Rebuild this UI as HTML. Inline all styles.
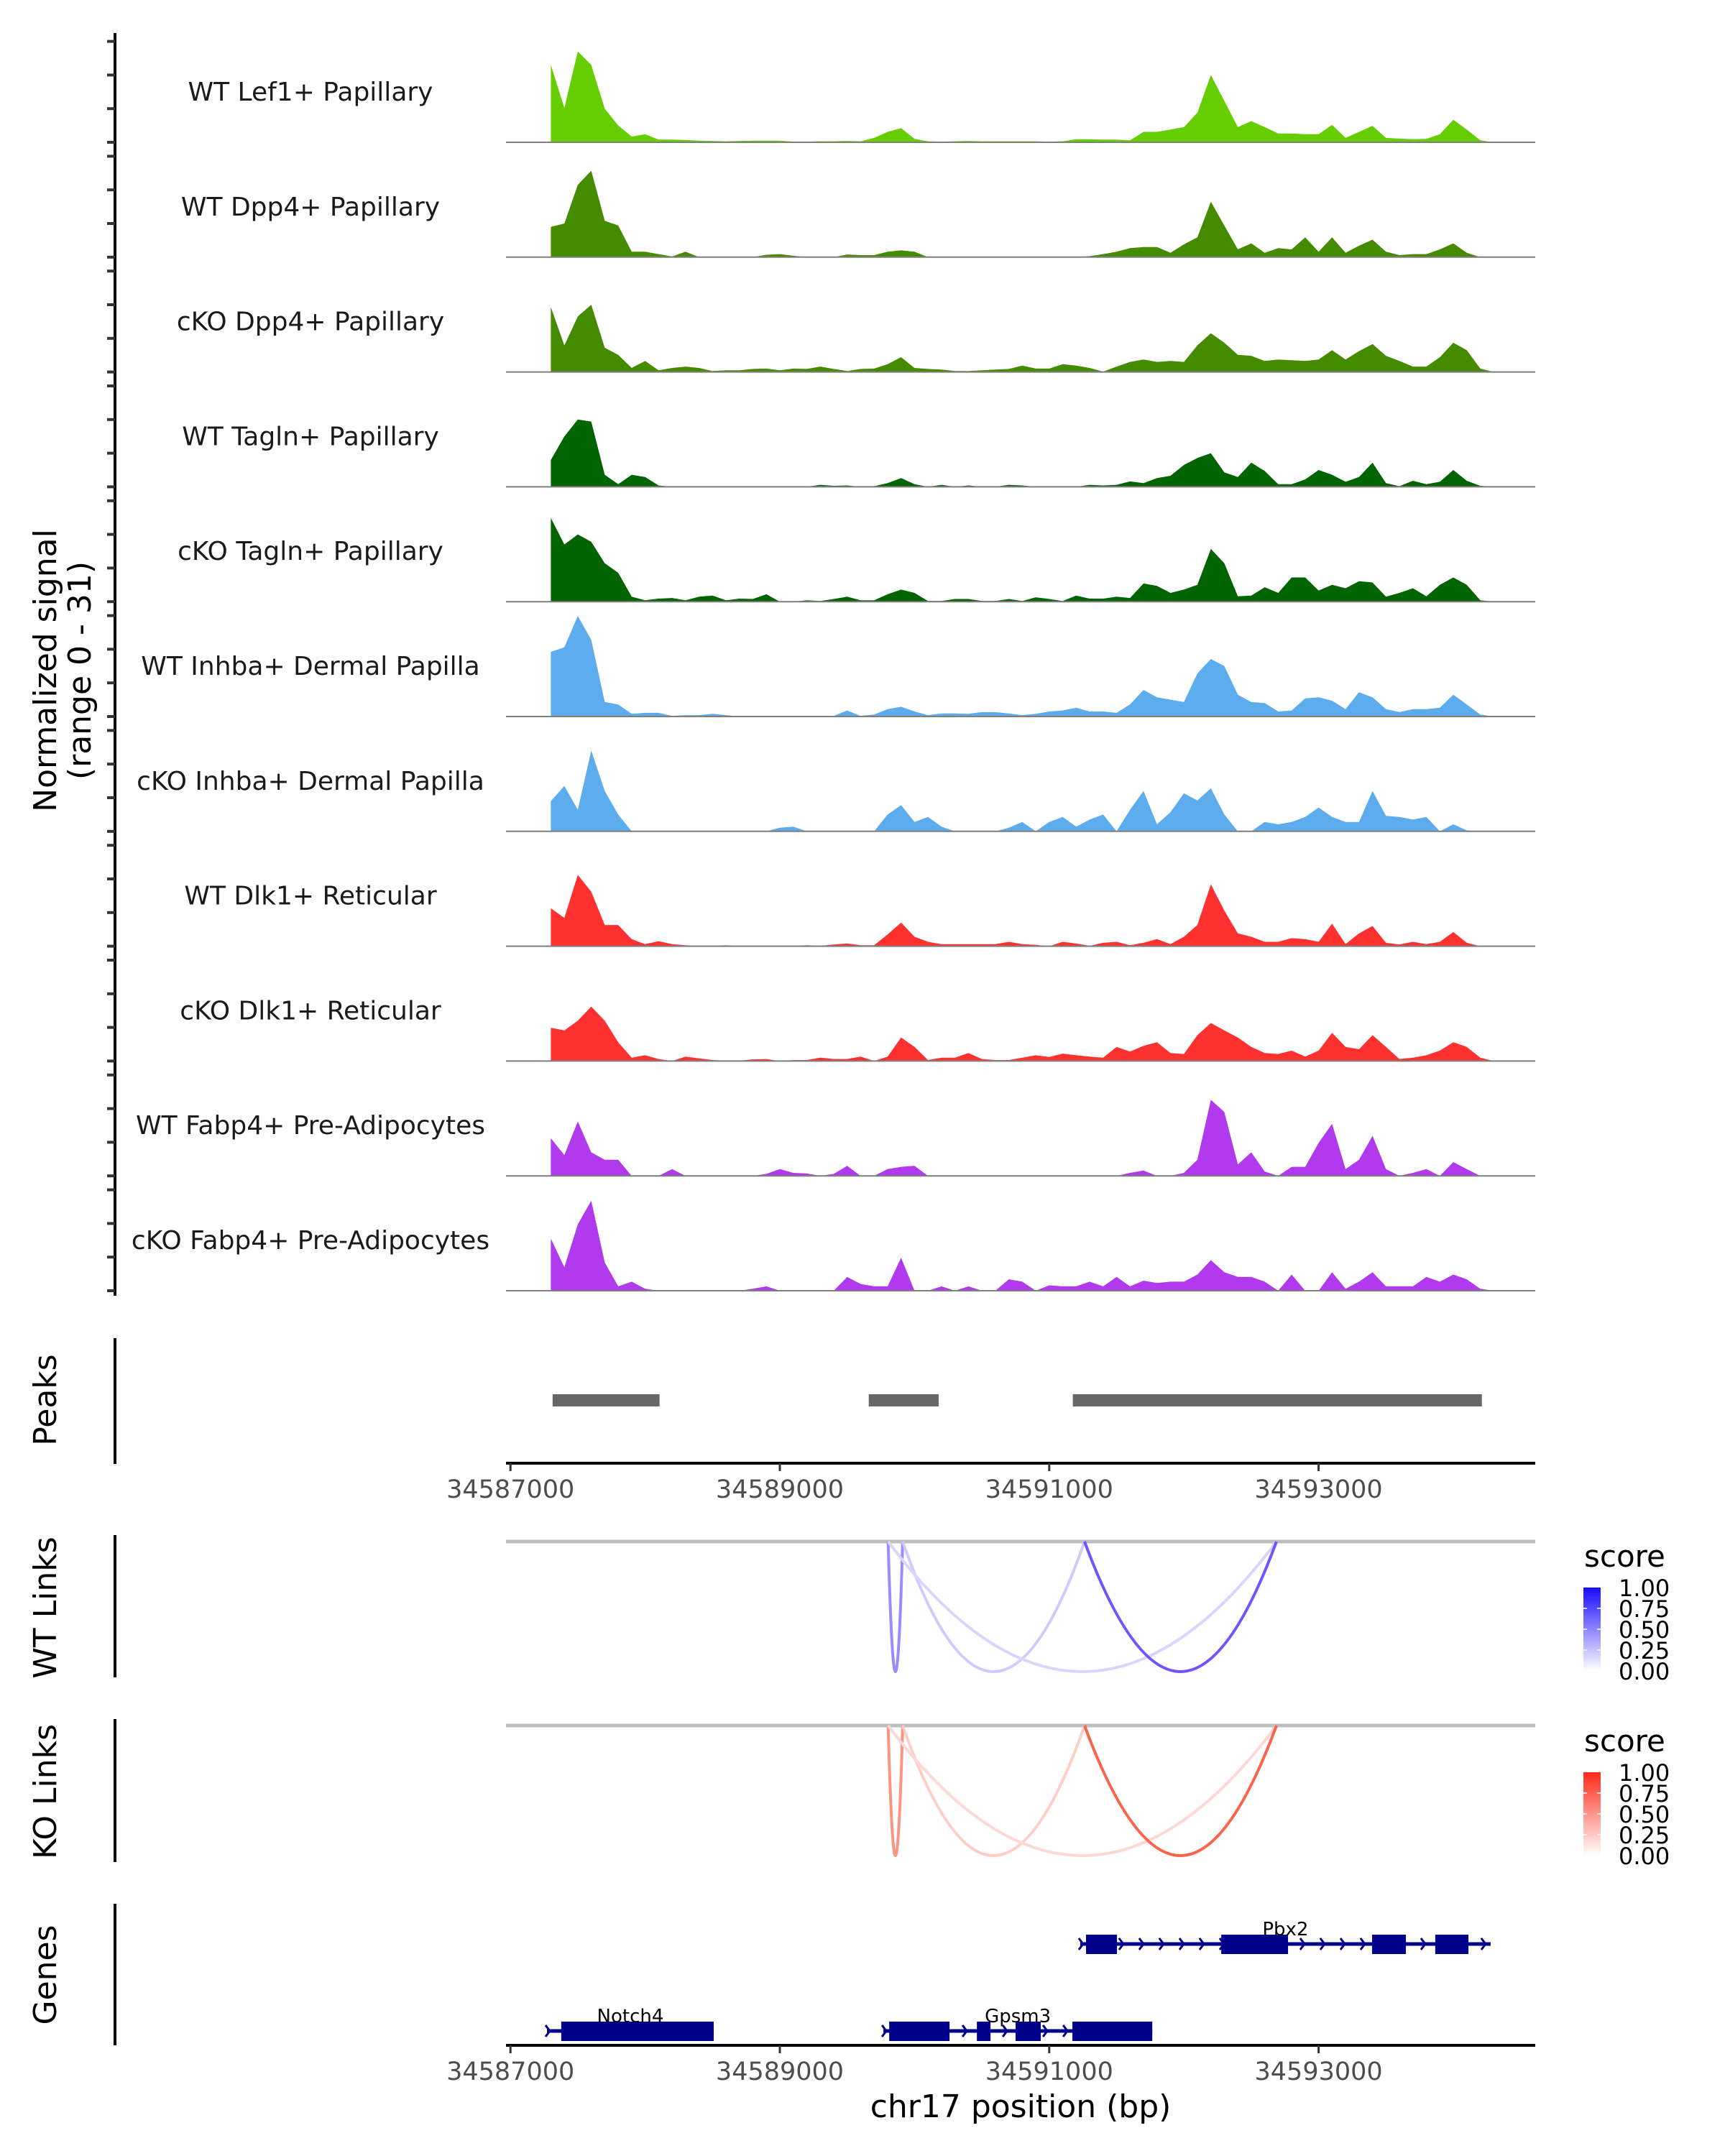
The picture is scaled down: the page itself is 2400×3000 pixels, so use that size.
<!DOCTYPE html>
<html><head><meta charset="utf-8"><style>
html,body{margin:0;padding:0;background:#fff;}
svg{display:block;font-family:"DejaVu Sans","Liberation Sans",sans-serif;}
</style></head><body>
<svg id="chart" width="2400" height="3000" viewBox="0 0 2400 3000" xmlns="http://www.w3.org/2000/svg"></svg>
<script>
// ---------- data ----------
const trackNames = ["WT Lef1+ Papillary","WT Dpp4+ Papillary","cKO Dpp4+ Papillary","WT Tagln+ Papillary","cKO Tagln+ Papillary","WT Inhba+ Dermal Papilla","cKO Inhba+ Dermal Papilla","WT Dlk1+ Reticular","cKO Dlk1+ Reticular","WT Fabp4+ Pre-Adipocytes","cKO Fabp4+ Pre-Adipocytes"];
const trackColors = ["#66CD00","#458B00","#458B00","#006400","#006400","#5CACEE","#5CACEE","#FF3030","#FF3030","#B23AEE","#B23AEE"];
const binStart = 34587300;
const binSize = 100;
const sigLef1WT = [23,10.2,27,23,10,5,1.7,2.4,0.8,0.8,0.7,0.5,0.4,0.3,0.4,0.5,0.5,0.5,0.2,0.2,0.3,0.3,0.4,0.3,1.3,3.1,4.2,1,0.3,0.2,0.3,0.4,0.3,0.3,0.3,0.3,0.3,0.2,0.3,0.9,0.9,0.8,0.8,0.6,3.1,3.1,3.8,4.5,8.8,20,12.3,4.5,6.3,4.5,2.6,2.6,2.4,2.4,5.2,1.3,3.1,4.9,1.3,1.1,0.9,1,2.4,6.7,3.8,0.6,0];
const sigDpp4WT = [9,10,21.5,25.7,10.8,9.4,1.6,1.6,0.9,0.2,1.6,0,0,0,0,0,0.7,0.9,0.4,0,0,0,0.8,0.6,0.6,1.6,2,1.6,0,0,0,0,0,0,0,0,0,0,0,0,0.3,0.9,1.6,2.7,3,3,1.3,3.8,5.9,16.5,9.4,2.3,4.1,1.3,2.7,2.3,5.9,1.6,5.9,1.3,3.4,5.2,1.6,0.6,0.9,0.9,2.3,4.1,1.3,0,0];
const sigDpp4KO = [19.3,7.9,16.5,20,7.2,5.1,1.2,3.3,0.5,1.2,1.6,1.2,0.3,0.5,0.5,0.9,1,0.5,1,0.9,1.6,0.9,0.3,0.9,1,2.3,4.4,1.2,0.9,0.7,0.3,0.3,0.5,0.7,0.9,1.9,1,1,2.3,1.9,1.2,0.1,1.6,3,3.7,3,3.3,3,7.9,11.5,8.7,5.1,4.8,3.3,3.7,3.5,3.3,3.7,6.5,3.7,6.2,8.3,4.8,3.3,1.6,1.6,4.4,8.7,6.5,1,0];
const sigTaglnWT = [8,15,20,19.4,3.6,0.8,3.6,2.9,0.4,0,0,0,0,0,0,0,0,0,0,0,0.6,0.3,0.4,0,0.2,1.1,2.6,0.8,0,0.6,0,0.4,0,0,0.6,0.4,0,0,0,0,0.6,0.4,0.6,1.6,1.1,2.6,3.3,6.5,8.6,10,4.3,2.9,7.2,4.7,0.8,0.8,2.2,5,3.6,1.5,2.9,7.2,1.1,0.2,1.8,0.8,1.5,5,1.8,0.3,0];
const sigTaglnKO = [24.9,17,20,17.8,11.4,8.6,1.5,0.4,0.9,1.1,0.4,1.5,1.8,0.4,0.9,0.8,2.2,0,0,0.4,0.2,0.8,1.5,0.4,0.4,2.2,3.6,2.6,0.2,0.2,0.8,0.8,0.2,0.2,0.8,0.2,1.3,0.8,0.2,1.8,0.9,0.9,1.5,1.1,5.4,4.7,2.6,3.6,5,15.7,11.4,1.6,1.8,4.3,2.6,7.2,7.2,3.3,5,4,6.1,5.7,1.5,2.6,4,1.6,5,7.2,5,0.4,0];
const sigInhbaWT = [19.2,20.6,29.9,22.8,4.3,3.6,0.8,1.1,1.1,0.2,0.4,0.4,0.8,0.4,0,0,0,0,0,0,0,0.2,1.8,0.2,0.6,2.2,2.9,1.5,0.4,0.9,0.9,0.8,1.3,1.3,0.9,0.4,0.8,1.5,1.8,2.6,1.5,1.5,1.1,3.6,7.9,5.7,5,4.3,12.8,17.1,15,6.5,4.3,4,1.5,1.8,5.4,5.7,4.7,2.2,7.2,5.7,2.2,1.3,2.2,2.2,2.6,6.5,3.6,0.6,0];
const sigInhbaKO = [9,13.5,6.4,24,12,5,0,0,0,0,0,0,0,0,0,0,0,1.1,1.4,0,0,0,0,0,0,5,7.8,2.8,4.3,1.4,0,0,0,0,1.1,2.8,0,2.8,4.3,1.4,3.5,5,0,6.4,12,2.1,5.7,11.3,9.2,12.8,5,0,0,2.8,2.1,2.8,4.3,7.1,4.3,2.8,2.8,12,4.6,4.3,3.5,4.3,0,2.1,0.3,0,0];
const sigDlk1WT = [11.3,8.4,21.2,16.2,6.3,6.3,2.1,0.6,1.5,0.6,0.3,0,0,0.3,0,0,0,0,0,0.3,0.1,0.5,0.8,0.3,0.3,3.5,7,2.8,1.3,0.6,0.6,0.6,0.6,0.6,1.3,0.6,0.4,0,1.3,0.8,0.1,1,1.3,0.3,1,2.1,0.6,2.8,6.3,18.4,10.6,3.8,2.8,1.3,1.3,2.4,2.1,1.3,6.7,0.6,3.8,6,1,0.5,1.3,0.6,1.3,4.2,1,0,0];
const sigDlk1KO = [9.9,9.1,12,16.2,12,5.6,1,1.7,0.6,0,1.3,0.8,0.3,0.1,0.1,0.5,0.6,0,0.3,0.3,1,0.6,0.6,1.3,0,1.3,7,4.2,0.3,1,1,2.4,0.6,0.3,0.3,1,1.7,1.2,2.2,1.7,1.3,1,4.2,2.8,4.5,5.6,2.4,2.1,7.7,11.3,9.1,7,4.2,2.4,2.1,3.1,1.3,3.1,8.4,4.2,3.5,7.7,4.2,0.6,1,1.7,3.1,5.6,4.2,1,0];
const sigFabp4WT = [11.2,6.2,16.2,7,4.8,4.8,0,0,0,2,0,0,0,0,0,0,0.6,2,0.9,0.7,0,0.6,3,0,0,2,2.7,3,0,0,0,0,0,0,0,0,0,0,0,0,0,0,0,0.9,1.6,0,0,0.9,4.8,22.6,19,3.4,7,1.3,0,2.7,2.7,9.8,15.5,2,4.8,11.9,2,0,0.9,2,0,4.1,2,0,0];
const sigFabp4KO = [15.5,7,19.7,26.8,8.4,1.3,2.7,0.6,0,0,0,0,0,0,0,0.6,1.3,0,0,0,0,0,4.1,2,1.3,1.3,9.8,0,0,1.3,0,1.3,0,0,3.4,2.7,0,1.6,1.3,1.3,2.7,1.3,4.1,1.3,3,2.3,2.7,2.7,4.8,9.1,5.5,4.1,4.1,2.7,0,4.8,0,0,5.5,0.6,2.7,5.5,1.3,1.3,1.3,4.1,2.7,4.8,3.4,0.6,0];
const peakStarts = [34587313,34589660,34591175];
const peakEnds = [34588107,34590179,34594212];
const linkStartsPos = [34589804,34589912,34589804,34591262];
const linkEndsPos = [34589912,34591262,34592687,34592687];
const linkScoresWT = [0.55,0.25,0.2,0.8];
const linkScoresKO = [0.55,0.25,0.2,0.8];
const xTickValues = [34587000,34589000,34591000,34593000];
const xTickLabels = ["34587000","34589000","34591000","34593000"];
const yTickValues = [0,10,20,30];
const legendLabels = ["1.00","0.75","0.50","0.25","0.00"];
const geneNames = ["Pbx2","Notch4","Gpsm3"];
const geneStarts = [34591230,34587271,34589769];
const geneEnds = [34594277,34588509,34591765];
const geneExons = [
  [[34591273,34591503],[34592277,34592773],[34593397,34593648],[34593866,34594112]],
  [[34587377,34588509]],
  [[34589812,34590260],[34590463,34590564],[34590750,34590937],[34591172,34591765]]
];
const geneRows = [0,1,1];

// ---------- scales ----------
const NS="http://www.w3.org/2000/svg";
const svg=document.getElementById('chart');
const X0=710.2, PXBP=0.18740;
function xScale(pos){return X0+(pos-34587000)*PXBP;}
const baseY0=198, trackStep=159.8, PXV=4.68;
function yScale(track,v){return baseY0+trackStep*track - v*PXV;}
function el(tag,attrs,parent){const e=document.createElementNS(NS,tag);for(const k in attrs)e.setAttribute(k,attrs[k]);(parent||svg).appendChild(e);return e;}
function txt(s,attrs,parent){const t=el('text',attrs,parent);t.textContent=s;return t;}

const signals=[sigLef1WT,sigDpp4WT,sigDpp4KO,sigTaglnWT,sigTaglnKO,sigInhbaWT,sigInhbaKO,sigDlk1WT,sigDlk1KO,sigFabp4WT,sigFabp4KO];

let ax=el('line',{x1:160,y1:46,x2:160,y2:1803,stroke:'#000','stroke-width':4});



signals.forEach((sig,t)=>{
  const g=el('g',{});
  
  
  const base=yScale(t,0);
  yTickValues.forEach(v=>{
    const tk=el('line',{x1:149,y1:yScale(t,v),x2:160,y2:yScale(t,v),stroke:'#333','stroke-width':4},g);
    
    
  });
  let d='M'+xScale(binStart).toFixed(1)+','+base;
  sig.forEach((v,i)=>{d+=' L'+xScale(binStart+binSize*i).toFixed(1)+','+yScale(t,v).toFixed(1);});
  d+=' L'+xScale(binStart+binSize*(sig.length-1)).toFixed(1)+','+base+' Z';
  const p=el('path',{d:d,fill:trackColors[t]},g);
  
  
  const bl=el('line',{x1:704,y1:base,x2:2136,y2:base,stroke:'#7f7f7f','stroke-width':2},g);
  
  
  const lb=txt(trackNames[t],{x:432,y:base-58,'font-size':36,fill:'#1a1a1a','text-anchor':'middle'},g);
  
  
});

const yt=txt('',{transform:'translate(78,933) rotate(-90)','font-size':44,fill:'#000','text-anchor':'middle'});


const ts1=el('tspan',{x:0,dy:0},yt);ts1.textContent='Normalized signal';
const ts2=el('tspan',{x:0,dy:48},yt);ts2.textContent='(range 0 - 31)';

function sideTitle(s,cy,y1,y2,name){
  const t=txt(s,{transform:'translate(78,'+cy+') rotate(-90)','font-size':44,fill:'#000','text-anchor':'middle'});
  
  
  const l=el('line',{x1:160,y1:y1,x2:160,y2:y2,stroke:'#000','stroke-width':4});
  
  
}
sideTitle('Peaks',1948,1862,2037,'peaks');
sideTitle('WT Links',2237,2136,2334,'wt-links');
sideTitle('KO Links',2493,2392,2591,'ko-links');
sideTitle('Genes',2748,2649,2846,'genes');

peakStarts.forEach((s,i)=>{
  const r=el('rect',{x:xScale(s),y:1940,width:xScale(peakEnds[i])-xScale(s),height:17,fill:'#676767'});
  
  
});

function xAxis(y,name){
  const g=el('g',{});
  
  
  el('line',{x1:704,y1:y,x2:2136,y2:y,stroke:'#000','stroke-width':4},g);
  xTickValues.forEach((v,i)=>{
    const tk=el('line',{x1:xScale(v),y1:y,x2:xScale(v),y2:y+11,stroke:'#333','stroke-width':3},g);
    
    
    const tl=txt(xTickLabels[i],{x:xScale(v),y:y+48,'font-size':35,fill:'#4d4d4d','text-anchor':'middle'},g);
    
    
  });
}
xAxis(2036,'peaks-x-axis');
xAxis(2846,'genes-x-axis');
const xt=txt('chr17 position (bp)',{x:1420,y:2946,'font-size':44,fill:'#000','text-anchor':'middle'});



function mix(c,s){return 'rgb('+[0,1,2].map(k=>Math.round(255+(c[k]-255)*s)).join(',')+')';}
function links(y0,scores,col,legCol,name,legY){
  const g=el('g',{});
  
  
  const bl=el('line',{x1:704,y1:y0,x2:2136,y2:y0,stroke:'#bebebe','stroke-width':5},g);
  
  
  const depth=181;
  linkStartsPos.forEach((s,i)=>{
    const x1=xScale(s),x2=xScale(linkEndsPos[i]);
    const p=el('path',{d:'M'+x1+','+y0+' Q'+((x1+x2)/2)+','+(y0+2*depth)+' '+x2+','+y0,fill:'none',stroke:mix(col,scores[i]),'stroke-width':4},g);
    
    
  });
  const lg=el('g',{},g);
  
  
  const gid='grad'+name;
  const defs=el('defs',{},lg);
  const gr=el('linearGradient',{id:gid,x1:0,y1:1,x2:0,y2:0},defs);
  el('stop',{offset:'0','stop-color':'#ffffff'},gr);
  el('stop',{offset:'1','stop-color':legCol},gr);
  txt('score',{x:2204,y:legY,'font-size':42,fill:'#000'},lg);
  el('rect',{x:2203,y:legY+29,width:24,height:116,fill:'url(#'+gid+')'},lg);
  legendLabels.forEach((l,i)=>{
    const ty=legY+29+i*29;
    if(i>0&&i<4){el('line',{x1:2203,y1:ty,x2:2208,y2:ty,stroke:'#fff','stroke-width':1.5},lg);el('line',{x1:2222,y1:ty,x2:2227,y2:ty,stroke:'#fff','stroke-width':1.5},lg);}
    const lt=txt(l,{x:2252,y:ty+12,'font-size':32,fill:'#000'},lg);
    
    
  });
}
links(2145,linkScoresWT,[80,40,255],'#1a0aff','wt-links',2180);
links(2401,linkScoresKO,[250,60,30],'#ff2a1a','ko-links',2437);

const rowY=[2705,2826];
geneNames.forEach((n,i)=>{
  const g=el('g',{});
  
  
  const y=rowY[geneRows[i]];
  const xs=xScale(geneStarts[i]),xe=xScale(geneEnds[i]);
  el('line',{x1:xs,y1:y,x2:xe,y2:y,stroke:'#00008B','stroke-width':5},g);
  for(let x=xs+4;x<=xe-2;x+=28){
    el('path',{d:'M'+(x-6)+','+(y-8)+' L'+x+','+y+' L'+(x-6)+','+(y+8),fill:'none',stroke:'#00008B','stroke-width':3},g);
  }
  geneExons[i].forEach(ex=>{
    const r=el('rect',{x:xScale(ex[0]),y:y-13,width:xScale(ex[1])-xScale(ex[0]),height:27,fill:'#00008B'},g);
    
    
  });
  const mid=(xs+xe)/2;
  const gl=txt(n,{x:mid,y:y-12,'font-size':26,fill:'#000','text-anchor':'middle'},g);
  
  
});
</script>
</body></html>
